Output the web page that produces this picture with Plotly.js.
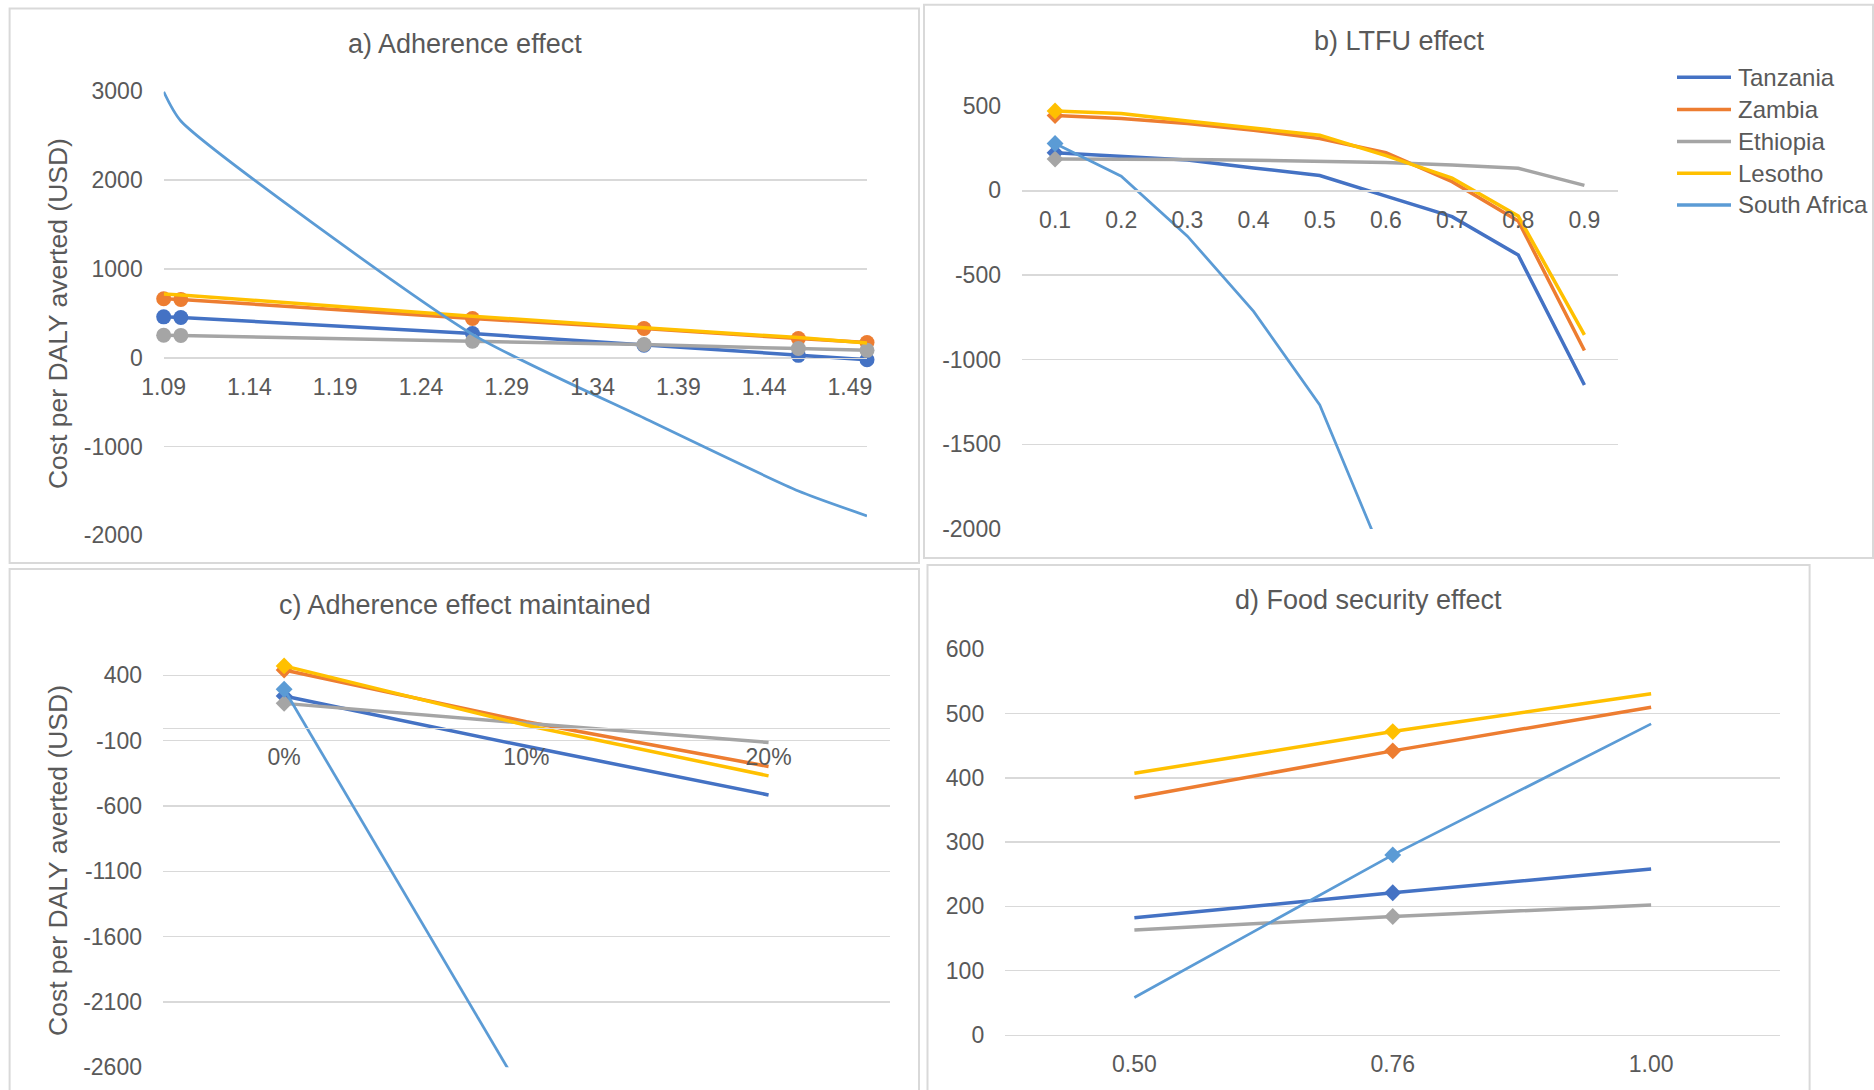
<!DOCTYPE html>
<html><head><meta charset="utf-8">
<script src="https://cdn.plot.ly/plotly-3.0.1.min.js"></script>
<style>html,body{margin:0;padding:0;background:#fff;} #chart{width:1874px;height:1090px;}</style>
</head><body><div id="chart"></div>
<script>
// ---------- DATA ----------
const countries = ['Tanzania', 'Zambia', 'Ethiopia', 'Lesotho', 'South Africa'];
const colors = ['#4472C4', '#ED7D31', '#A5A5A5', '#FFC000', '#5B9BD5'];

// a) Adherence effect
const adhX = [1.09, 1.10, 1.27, 1.37, 1.46, 1.50];
const adhTanzania = [459, 452, 271, 139, 26, -23];
const adhZambia = [662, 655, 440, 328, 215, 170];
const adhEthiopia = [252, 250, 184, 147, 102, 82];
const adhLesotho = [715, 705, 467, 335, 226, 165];
const adhSouthAfrica = [2990, 2662, 262, -680, -1500, -1780];
const adhXTicks = [1.09, 1.14, 1.19, 1.24, 1.29, 1.34, 1.39, 1.44, 1.49];
const adhXTickText = ['1.09', '1.14', '1.19', '1.24', '1.29', '1.34', '1.39', '1.44', '1.49'];
const adhYTicks = [-2000, -1000, 0, 1000, 2000, 3000];
const adhYTickText = ['-2000', '-1000', '0', '1000', '2000', '3000'];

// b) LTFU effect
const ltfuX = ['0.1', '0.2', '0.3', '0.4', '0.5', '0.6', '0.7', '0.8', '0.9'];
const ltfuTanzania = [223, 202, 180, 133, 88, -34, -155, -382, -1150];
const ltfuZambia = [442, 425, 395, 356, 307, 223, 52, -180, -946];
const ltfuEthiopia = [185, 185, 182, 178, 172, 165, 150, 131, 30];
const ltfuLesotho = [470, 455, 410, 367, 326, 206, 73, -152, -854];
const ltfuSouthAfrica = [277, 84, -270, -715, -1268, -2206, null, null, null];
const ltfuYTicks = [-2000, -1500, -1000, -500, 0, 500];
const ltfuYTickText = ['-2000', '-1500', '-1000', '-500', '0', '500'];

// c) Adherence effect maintained
const maintX = ['0%', '10%', '20%'];
const maintTanzania = [243, -143, -515];
const maintZambia = [442, 45, -297];
const maintEthiopia = [186, 33, -113];
const maintLesotho = [473, 18, -369];
const maintSouthAfrica = [294, -2850, null];
const maintYTicks = [-2600, -2100, -1600, -1100, -600, -100, 400];
const maintYTickText = ['-2600', '-2100', '-1600', '-1100', '-600', '-100', '400'];

// d) Food security effect
const foodX = ['0.50', '0.76', '1.00'];
const foodTanzania = [182, 221, 258];
const foodZambia = [369, 442, 510];
const foodEthiopia = [163, 184, 202];
const foodLesotho = [407, 472, 531];
const foodSouthAfrica = [58, 280, 484];
const foodYTicks = [0, 100, 200, 300, 400, 500, 600];
const foodYTickText = ['0', '100', '200', '300', '400', '500', '600'];

// ---------- LAYOUT HELPERS ----------
const W = 1874, H = 1090;
const px = v => v / W;
const py = v => 1 - v / H;
const FONT = 'Liberation Sans, Arial, sans-serif';
const TXT = '#595959';
const GRID = '#d9d9d9';

const panels = [
  { id: '', x: adhX, series: [adhTanzania, adhZambia, adhEthiopia, adhLesotho, adhSouthAfrica],
    xdom: [163.7, 867], ydom: [535.4, 91], yr: [-2000, 3000],
    xtype: 'linear', xr: [1.09, 1.50], xt: adhXTicks, xtt: adhXTickText,
    yt: adhYTicks, ytt: adhYTickText,
    markIdx: null, markSeries: [0, 1, 2], symbol: 'circle', msize: 15 },
  { id: '2', x: ltfuX, series: [ltfuTanzania, ltfuZambia, ltfuEthiopia, ltfuLesotho, ltfuSouthAfrica],
    xdom: [1022, 1617.5], ydom: [528.9, 105.8], yr: [-2000, 500],
    xtype: 'category', xr: [-0.5, 8.5], xt: null, xtt: null,
    yt: ltfuYTicks, ytt: ltfuYTickText,
    markIdx: 0, markSeries: [0, 1, 2, 3, 4], symbol: 'diamond', msize: 13 },
  { id: '3', x: maintX, series: [maintTanzania, maintZambia, maintEthiopia, maintLesotho, maintSouthAfrica],
    xdom: [163, 889.7], ydom: [1067.2, 649.3], yr: [-2600, 600],
    xtype: 'category', xr: [-0.5, 2.5], xt: null, xtt: null,
    yt: maintYTicks, ytt: maintYTickText,
    markIdx: 0, markSeries: [0, 1, 2, 3, 4], symbol: 'diamond', msize: 13 },
  { id: '4', x: foodX, series: [foodTanzania, foodZambia, foodEthiopia, foodLesotho, foodSouthAfrica],
    xdom: [1005.2, 1780.3], ydom: [1034.7, 649.4], yr: [0, 600],
    xtype: 'category', xr: [-0.5, 2.5], xt: null, xtt: null,
    yt: foodYTicks, ytt: foodYTickText,
    markIdx: 1, markSeries: [0, 1, 2, 3, 4], symbol: 'diamond', msize: 13 }
];

const traces = [];
const layout = {
  width: W, height: H,
  margin: { l: 0, r: 0, t: 0, b: 0 },
  paper_bgcolor: '#ffffff', plot_bgcolor: 'rgba(0,0,0,0)',
  font: { family: FONT, color: TXT, size: 23 },
  showlegend: false,
  annotations: [], shapes: []
};

panels.forEach((p, pi) => {
  const xa = 'x' + p.id, ya = 'y' + p.id;
  const xKey = 'xaxis' + p.id, yKey = 'yaxis' + p.id;
  const yd = [py(p.ydom[0]), py(p.ydom[1])];
  const zeroPos = yd[0] + (0 - p.yr[0]) / (p.yr[1] - p.yr[0]) * (yd[1] - yd[0]);
  const xaxis = {
    domain: [px(p.xdom[0]), px(p.xdom[1])], type: p.xtype, range: p.xr,
    anchor: 'free', position: zeroPos,
    showgrid: false, zeroline: false, showline: true, linecolor: GRID, linewidth: 1.5,
    ticks: '', ticklabelstandoff: 8, tickfont: { family: FONT, size: 23, color: TXT },
    fixedrange: true
  };
  if (p.xt) { xaxis.tickmode = 'array'; xaxis.tickvals = p.xt; xaxis.ticktext = p.xtt; }
  layout[xKey] = xaxis;
  layout[yKey] = {
    domain: yd, range: p.yr, anchor: xa,
    tickmode: 'array', tickvals: p.yt, ticktext: p.ytt,
    showgrid: true, gridcolor: GRID, gridwidth: 1.5,
    zeroline: false, showline: false, ticks: '', ticklabelstandoff: 20,
    tickfont: { family: FONT, size: 23, color: TXT }, fixedrange: true
  };

  p.series.forEach((s, i) => {
    const isSA = i === 4;
    traces.push({
      type: 'scatter', mode: 'lines', x: p.x, y: s, xaxis: xa, yaxis: ya,
      name: countries[i], showlegend: false,
      line: { color: colors[i], width: isSA ? 2.75 : 3.5,
              shape: (pi === 0 && isSA) ? 'spline' : 'linear', smoothing: 0.6 },
      connectgaps: false, hoverinfo: 'skip'
    });
    if (p.markSeries.indexOf(i) >= 0) {
      const mx = p.markIdx === null ? p.x : [p.x[p.markIdx]];
      const my = p.markIdx === null ? s : [s[p.markIdx]];
      traces.push({
        type: 'scatter', mode: 'markers', x: mx, y: my, xaxis: xa, yaxis: ya,
        name: countries[i], showlegend: false, cliponaxis: false,
        marker: { symbol: p.symbol, size: p.msize, color: colors[i], line: { width: 0 } },
        hoverinfo: 'skip'
      });
    }
  });
});

// Legend (drawn beside panel b)
const legendRowsY = [77.3, 109.5, 141.5, 173.3, 205];
countries.forEach((c, i) => {
  layout.shapes.push({ type: 'line', xref: 'paper', yref: 'paper',
    x0: px(1677), x1: px(1731), y0: py(legendRowsY[i]), y1: py(legendRowsY[i]),
    line: { color: colors[i], width: 3.5 } });
  layout.annotations.push({ text: c, x: px(1736), y: py(legendRowsY[i]), xref: 'paper', yref: 'paper',
    xanchor: 'left', yanchor: 'middle', showarrow: false,
    font: { family: FONT, size: 24, color: TXT } });
});

// Titles
const titles = [
  ['a) Adherence effect', 464.5, 44],
  ['b) LTFU effect', 1399, 41],
  ['c) Adherence effect maintained', 464.5, 605],
  ['d) Food security effect', 1368.5, 600]
];
titles.forEach(t => layout.annotations.push({
  text: t[0], x: px(t[1]), y: py(t[2]), xref: 'paper', yref: 'paper',
  xanchor: 'center', yanchor: 'middle', showarrow: false,
  font: { family: FONT, size: 27, color: TXT }
}));
// Y axis titles
[[57.4, 313.7], [57.4, 860.6]].forEach(t => layout.annotations.push({
  text: 'Cost per DALY averted (USD)', x: px(t[0]), y: py(t[1]), xref: 'paper', yref: 'paper',
  xanchor: 'center', yanchor: 'middle', showarrow: false, textangle: -90,
  font: { family: FONT, size: 26.5, color: TXT }
}));
// Panel borders
[[9.6, 8.4, 919, 563], [924, 4.8, 1873, 558], [9.6, 569, 919, 1092], [927.5, 565, 1809.6, 1092]].forEach(b =>
  layout.shapes.push({ type: 'rect', xref: 'paper', yref: 'paper',
    x0: px(b[0]), x1: px(b[2]), y0: py(b[3]), y1: py(b[1]),
    line: { color: GRID, width: 2 }, fillcolor: 'rgba(0,0,0,0)', layer: 'below' }));

Plotly.newPlot('chart', traces, layout, { staticPlot: true, displayModeBar: false });
</script></body></html>
